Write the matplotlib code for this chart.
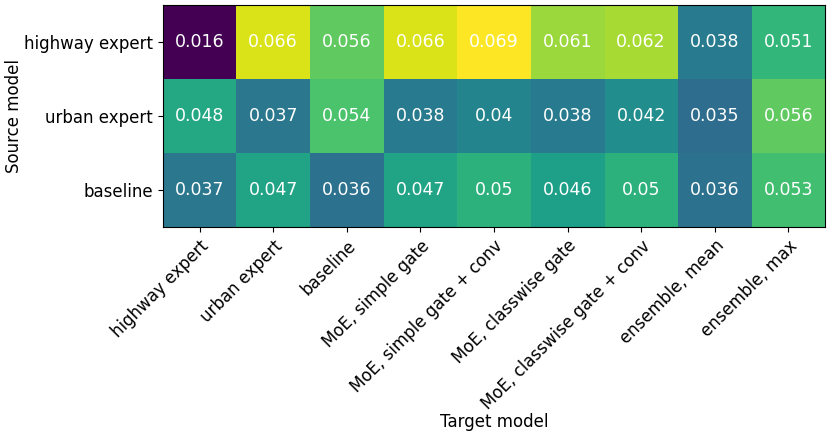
import matplotlib
matplotlib.use("Agg")
import matplotlib.pyplot as plt
import numpy as np

source_models = ["highway expert", "urban expert", "baseline"]
target_models = ["highway expert", "urban expert", "baseline", "MoE, simple gate",
                 "MoE, simple gate + conv", "MoE, classwise gate",
                 "MoE, classwise gate + conv", "ensemble, mean", "ensemble, max"]
row_highway = [0.016, 0.066, 0.056, 0.066, 0.069, 0.061, 0.062, 0.038, 0.051]
row_urban = [0.048, 0.037, 0.054, 0.038, 0.04, 0.038, 0.042, 0.035, 0.056]
row_baseline = [0.037, 0.047, 0.036, 0.047, 0.05, 0.046, 0.05, 0.036, 0.053]

vals = np.array([row_highway, row_urban, row_baseline])

fs = 12
fig = plt.figure(figsize=(8.31, 4.36), dpi=100)
ax = fig.add_axes([0.196, 0.4794, 0.7968, 0.5091])
ax.imshow(vals, cmap="viridis", aspect="auto")

for i in range(vals.shape[0]):
    for j in range(vals.shape[1]):
        ax.text(j, i, "{:g}".format(vals[i, j]), ha="center", va="center",
                color="w", fontsize=12.5)

ax.set_xticks(np.arange(len(target_models)))
ax.set_yticks(np.arange(len(source_models)))
ax.set_xticklabels(target_models, rotation=45, ha="right",
                   rotation_mode="anchor", fontsize=fs)
ax.set_yticklabels(source_models, fontsize=fs)
ax.set_xlabel("Target model", fontsize=fs, labelpad=0)
ax.set_ylabel("Source model", fontsize=fs, labelpad=1)

fig.savefig("out.png", dpi=100)
